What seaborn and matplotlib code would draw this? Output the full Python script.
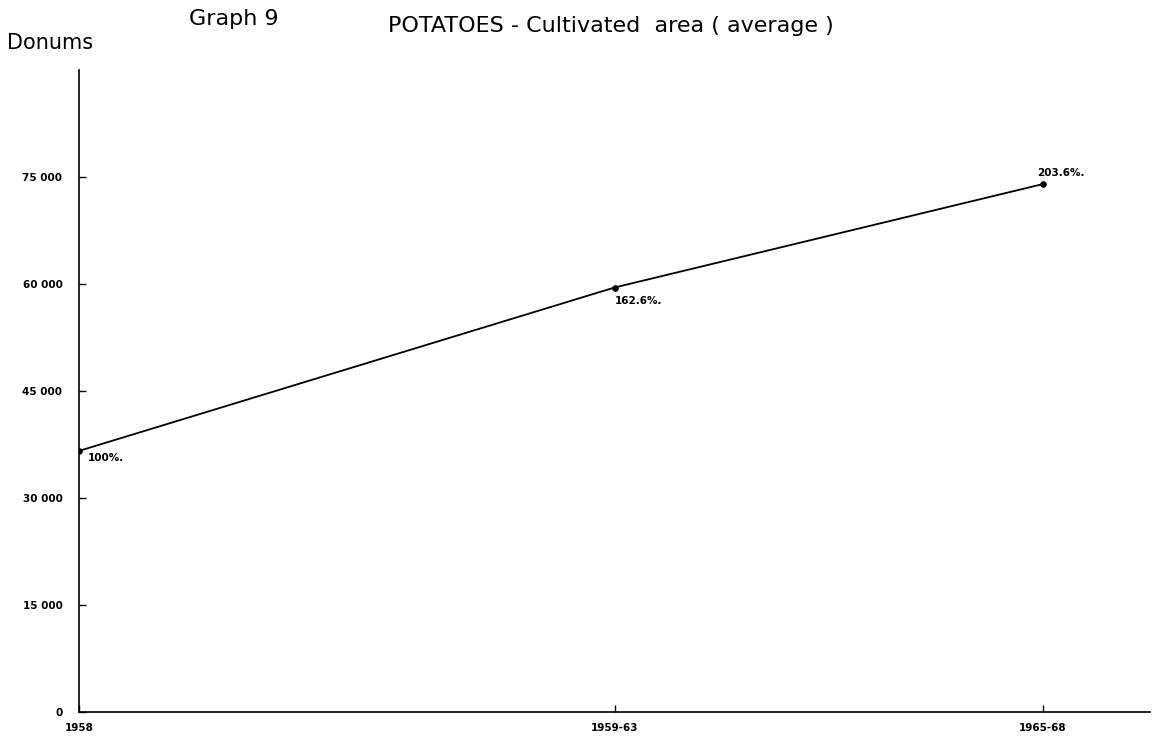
import numpy as np
import pandas as pd
import matplotlib
matplotlib.use("Agg")
import matplotlib.pyplot as plt
import seaborn as sns

# ── Data ──────────────────────────────────────────────────────────────────
periods   = ["1958", "1959-63", "1965-68"]
x_pos     = [1958, 1963, 1967]          # horizontal placement on the time axis
area      = [36600, 59500, 74000]       # donums (average)
pct_label = ["100%.", "162.6%.", "203.6%."]
y_ticks   = [0, 15000, 30000, 45000, 60000, 75000]
y_labels  = ["0", "15 000", "30 000", "45 000", "60 000", "75 000"]

df = pd.DataFrame({"x": x_pos, "area": area, "period": periods})

sns.set_style("white", {"xtick.bottom": True, "ytick.left": True,
                        "text.color": "black", "axes.labelcolor": "black",
                        "xtick.color": "black", "ytick.color": "black"})
plt.rcParams['font.family'] = ['DejaVu Sans']

fig = plt.figure(figsize=(11.54, 7.44), dpi=100)
ax = fig.add_axes([0.0685, 0.043, 0.928, 0.863])

sns.lineplot(data=df, x="x", y="area", ax=ax, color="black",
             linewidth=1.3, marker="o", markersize=4,
             markeredgecolor="black")

ax.set_xlim(1958, 1968)
ax.set_ylim(0, 90000)
ax.set_xticks(x_pos)
ax.set_xticklabels(periods, fontsize=7.5, fontweight="bold")
ax.set_yticks(y_ticks)
ax.set_yticklabels(y_labels, fontsize=7.5, fontweight="bold")
ax.tick_params(direction="in", length=5, width=1, colors="black")
ax.tick_params(axis="x", pad=8)
ax.tick_params(axis="y", pad=12)
ax.set_xlabel("")
ax.set_ylabel("")

for s in ["top", "right"]:
    ax.spines[s].set_visible(False)
for s in ["left", "bottom"]:
    ax.spines[s].set_color("black")
    ax.spines[s].set_linewidth(1.2)

# percentage labels next to the points
offsets = [(6, -5), (0, -10), (-4, 8)]
for (xv, yv, lab, off) in zip(x_pos, area, pct_label, offsets):
    ax.annotate(lab, (xv, yv), xytext=off, textcoords="offset points",
                fontsize=7.5, fontweight="bold", ha="left", va="center",
                color="black")

fig.text(0.164, 0.975, "Graph 9", fontsize=16, color="black",
         ha="left", va="center")
fig.text(0.336, 0.965, "POTATOES - Cultivated  area ( average )",
         fontsize=16, color="black", ha="left", va="center")
fig.text(0.006, 0.942, "Donums", fontsize=15, color="black",
         ha="left", va="center")

fig.savefig("out.png", dpi=100, facecolor="white")
